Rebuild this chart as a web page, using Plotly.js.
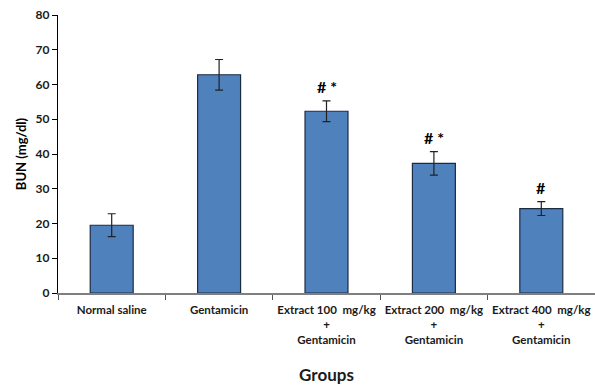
<!DOCTYPE html>
<html><head><meta charset="utf-8">
<script src="https://cdn.plot.ly/plotly-3.0.1.min.js"></script>
<style>html,body{margin:0;padding:0;background:#fff}#chart{width:595px;height:385px}</style>
</head><body><div id="chart"></div>
<script>
var categories = ["Normal saline", "Gentamicin", "Extract 100  mg/kg<br>+<br>Gentamicin", "Extract 200  mg/kg<br>+<br>Gentamicin", "Extract 400  mg/kg<br>+<br>Gentamicin"];
var bunMean = [19.5, 62.8, 52.3, 37.3, 24.3];
var bunErr = [3.3, 4.4, 3.0, 3.4, 2.0];
var marks = ["", "", "# *", "# *", "#"];
var yTicks = [0, 10, 20, 30, 40, 50, 60, 70, 80];

var font = "Lato, 'Open Sans', sans-serif";
var trace = {
  type: "bar", x: categories, y: bunMean,
  marker: {color: "#4F81BD", line: {color: "#1c2b44", width: 1.2}},
  width: 0.4,
  error_y: {type: "data", array: bunErr, visible: true, color: "#222", thickness: 1.2, width: 4},
  hoverinfo: "none"
};
var annotations = [];
for (var i = 0; i < categories.length; i++) {
  if (marks[i]) {
    annotations.push({x: categories[i], y: bunMean[i] + bunErr[i], xref: "x", yref: "y",
      text: "<b>" + marks[i] + "</b>", showarrow: false, yanchor: "bottom", yshift: 3,
      font: {family: font, size: 16, color: "#000"}});
  }
}
var layout = {
  width: 595, height: 385,
  margin: {l: 58, r: 0, t: 15, b: 92},
  paper_bgcolor: "#fff", plot_bgcolor: "#fff",
  showlegend: false, bargap: 0.6,
  font: {family: font},
  xaxis: {
    type: "category", range: [-0.5, 4.5], showline: true, linecolor: "#7f7f7f", linewidth: 1.5,
    ticks: "outside", tickson: "boundaries", ticklen: 5, tickcolor: "#555", tickwidth: 1,
    ticklabelstandoff: 6, tickangle: 0,
    tickfont: {family: font, size: 11.5, color: "#1a1a1a", weight: "bold"},
    title: {text: "<b>Groups</b>", font: {family: font, size: 17, color: "#1a1a1a"}, standoff: 25},
    showgrid: false, zeroline: false, fixedrange: true
  },
  yaxis: {
    range: [0, 80], tickvals: yTicks, showline: true, linecolor: "#000", linewidth: 1.2,
    ticks: "outside", ticklen: 5, tickcolor: "#000", tickwidth: 1,
    tickfont: {family: font, size: 12, color: "#1a1a1a", weight: "bold"},
    title: {text: "<b>BUN (mg/dl)</b>", font: {family: font, size: 13, color: "#000"}, standoff: 6},
    showgrid: false, zeroline: false, fixedrange: true
  },
  annotations: annotations
};
Plotly.newPlot("chart", [trace], layout, {staticPlot: true, displayModeBar: false});
</script></body></html>
